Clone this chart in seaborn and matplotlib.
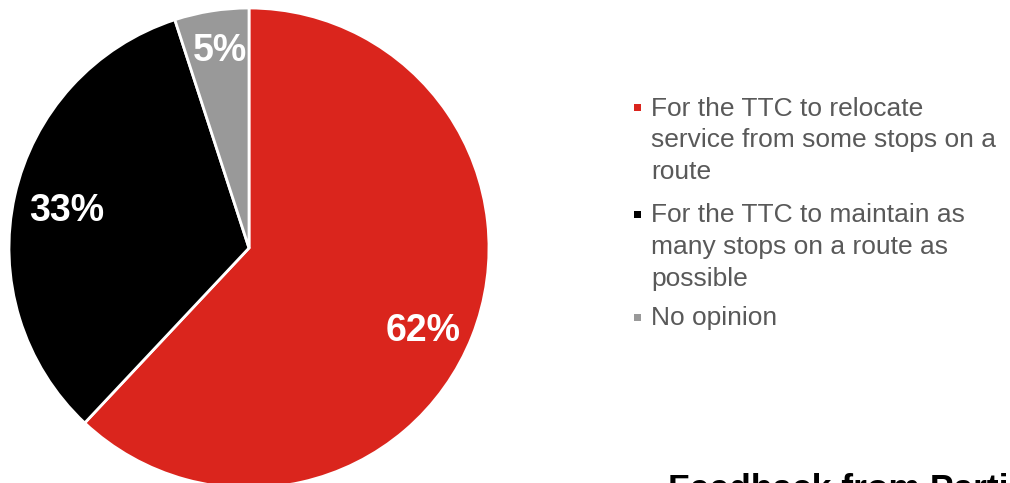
import matplotlib
matplotlib.use("Agg")
import matplotlib.pyplot as plt
import seaborn as sns
from matplotlib.patches import Rectangle

categories = [
    "For the TTC to relocate\nservice from some stops on a\nroute",
    "For the TTC to maintain as\nmany stops on a route as\npossible",
    "No opinion",
]
values = [62, 33, 5]
labels = ["62%", "33%", "5%"]
colors = ["#DA251D", "#000000", "#999999"]
title = "Feedback from Participants"

sns.set_theme(style="white")
plt.rcParams["font.family"] = ["Liberation Sans", "DejaVu Sans"]

fig = plt.figure(figsize=(10.10, 4.83), dpi=100)
ax = fig.add_axes([9 / 1010, -5 / 483, 480 / 1010, 480 / 483])
wedges, texts = ax.pie(
    values,
    colors=colors,
    startangle=90,
    counterclock=False,
    wedgeprops=dict(edgecolor="white", linewidth=2),
)
ax.set_xlim(-1, 1)
ax.set_ylim(-1, 1)
ax.set_aspect("equal")
ax.axis("off")

label_pos = [(0.725, -0.345), (-0.76, 0.155), (-0.12, 0.82)]
for lab, (x, y) in zip(labels, label_pos):
    ax.text(x, y, lab, ha="center", va="center", color="white",
            fontsize=27, fontweight="bold")

# legend
W, H = 1010, 483
entry_y = [107, 214, 317]
for cat, col, y in zip(categories, colors, entry_y):
    fig.patches.append(Rectangle((634 / W, (H - y - 3.5) / H), 7 / W, 7 / H,
                                 transform=fig.transFigure, facecolor=col,
                                 edgecolor="none"))
    fig.text(651 / W, (H - y + 10.5) / H, cat, ha="left", va="top",
             fontsize=19, color="#595959", linespacing=1.4,
             transform=fig.transFigure)

fig.text(668 / W, (H - 499) / H, title, ha="left", va="baseline",
         fontsize=25.5, fontweight="bold", color="#000000")

fig.savefig("out.png", dpi=100)
